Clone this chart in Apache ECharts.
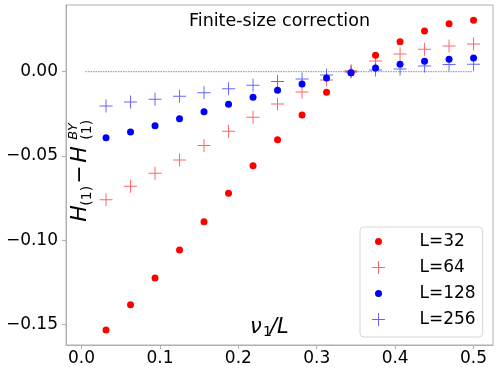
<!DOCTYPE html>
<html>
<head>
<meta charset="utf-8">
<script src="https://cdn.jsdelivr.net/npm/echarts@6/dist/echarts.min.js"></script>
<style>
html,body{margin:0;padding:0;background:#fff;}
#c{width:498px;height:374px;}
</style>
</head>
<body>
<div id="c"></div>
<script>
// ---- data ----
var xValues = [0.03125,0.0625,0.09375,0.125,0.15625,0.1875,0.21875,0.25,0.28125,0.3125,0.34375,0.375,0.40625,0.4375,0.46875,0.5];
var seriesNames = ['L=32','L=64','L=128','L=256'];
var yL32  = [-0.1534,-0.1384,-0.1225,-0.1059,-0.0891,-0.0722,-0.0558,-0.0404,-0.0257,-0.0122,-0.0006,0.0097,0.0178,0.0242,0.0285,0.0305];
var yL64  = [-0.0760,-0.0680,-0.0603,-0.0524,-0.0439,-0.0354,-0.0271,-0.0192,-0.0121,-0.0049,0.0006,0.0064,0.0105,0.0133,0.0153,0.0164];
var yL128 = [-0.0392,-0.0358,-0.0321,-0.0279,-0.0238,-0.0194,-0.0152,-0.0110,-0.0073,-0.0037,-0.0006,0.0022,0.0044,0.0062,0.0074,0.0081];
var yL256 = [-0.0204,-0.0180,-0.0164,-0.0146,-0.0125,-0.0101,-0.0081,-0.0059,-0.0043,-0.0020,-0.0002,0.0010,0.0016,0.0034,0.0042,0.0044];
var zeroLineX = [0.005, 0.5];
var xTickValues = [0,0.1,0.2,0.3,0.4,0.5];
var xTickLabels = ['0.0','0.1','0.2','0.3','0.4','0.5'];
var yTickValues = [-0.15,-0.10,-0.05,0.00];
var yTickLabels = ['\u22120.15','\u22120.10','\u22120.05','0.00'];
var titleText = 'Finite-size correction';

// ---- styling ----
var FONT = 'DejaVu Sans';
var PLUS = 'path://M6,0H7V6H13V7H7V13H6V7H0V6H6Z';
var DOT_ICON = 'path://M0,0L0,0M13,13L13,13M3,6.5a3.5,3.5 0 1,0 7,0a3.5,3.5 0 1,0 -7,0Z';
function pairs(ys){ return ys.map(function(y,i){ return [xValues[i], y]; }); }
function lookup(vals, labels, v){
  for (var i=0;i<vals.length;i++){ if (Math.abs(vals[i]-v) < 1e-9) return labels[i]; }
  return '';
}
var axisGray = '#b0b0b0';

var chart = echarts.init(document.getElementById('c'), null, {renderer:'canvas'});
var option = {
  animation: false,
  backgroundColor: '#fff',
  textStyle: {fontFamily: FONT},
  title: {
    text: titleText, left: 279.5, top: 12, textAlign: 'center', padding: 0,
    textStyle: {fontFamily: FONT, fontSize: 17.5, fontWeight: 'normal', color: '#000'}
  },
  grid: {left: 66, right: 5, top: 5, bottom: 29, show: true, borderColor: axisGray, borderWidth: 1, containLabel: false},
  xAxis: {
    type: 'value', min: -0.0198, max: 0.5248,
    axisLine: {show: true, onZero: false, lineStyle: {color: axisGray, width: 1}},
    axisTick: {show: true, length: 4, customValues: xTickValues, lineStyle: {color: axisGray}},
    axisLabel: {customValues: xTickValues, margin: 5, fontSize: 17, fontFamily: FONT, color: '#000',
      formatter: function(v){ return lookup(xTickValues, xTickLabels, v); }},
    splitLine: {show: false}
  },
  yAxis: {
    type: 'value', min: -0.1623, max: 0.0396,
    axisLine: {show: true, onZero: false, lineStyle: {color: axisGray, width: 1}},
    axisTick: {show: true, length: 4, customValues: yTickValues, lineStyle: {color: axisGray}},
    axisLabel: {customValues: yTickValues, margin: 8, fontSize: 17, fontFamily: FONT, color: '#000',
      formatter: function(v){ return lookup(yTickValues, yTickLabels, v); }},
    splitLine: {show: false}
  },
  legend: {
    orient: 'vertical', left: 360, top: 227,
    padding: [6, 7, 9, 12], itemGap: 9, itemWidth: 26, itemHeight: 13,
    backgroundColor: 'rgba(255,255,255,0.8)', borderColor: '#d6d6d6', borderWidth: 1, borderRadius: 4,
    textStyle: {fontFamily: FONT, fontSize: 17, color: '#000', padding: [0,0,0,23]},
    data: [
      {name: seriesNames[0], icon: DOT_ICON},
      {name: seriesNames[1], icon: PLUS},
      {name: seriesNames[2], icon: DOT_ICON},
      {name: seriesNames[3], icon: PLUS}
    ]
  },
  graphic: [
    {type: 'group', x: 88, y: 221.7, rotation: Math.PI/2, silent: true, children: [
      {type: 'text', x: 0, y: -8, style: {text: 'H', font: 'italic 22px "DejaVu Sans"', fill: '#000', verticalAlign: 'middle', align: 'left'}},
      {type: 'text', x: 16, y: -0.5, style: {text: '(1)', font: '14px "DejaVu Sans"', fill: '#000', verticalAlign: 'middle', align: 'left'}},
      {type: 'text', x: 38, y: -8, style: {text: '\u2212', font: '22px "DejaVu Sans"', fill: '#000', verticalAlign: 'middle', align: 'left'}},
      {type: 'text', x: 59, y: -8, style: {text: 'H', font: 'italic 22px "DejaVu Sans"', fill: '#000', verticalAlign: 'middle', align: 'left'}},
      {type: 'text', x: 82, y: -14.5, style: {text: 'BY', font: 'italic 13px "DejaVu Sans"', fill: '#000', verticalAlign: 'middle', align: 'left'}},
      {type: 'text', x: 82, y: -0.5, style: {text: '(1)', font: '14px "DejaVu Sans"', fill: '#000', verticalAlign: 'middle', align: 'left'}}
    ]},
    {type: 'group', x: 0, y: 0, silent: true, children: [
      {type: 'text', x: 250, y: 327.5, style: {text: '\u03bd', font: 'italic 21px "DejaVu Sans"', fill: '#000', verticalAlign: 'middle', align: 'left'}},
      {type: 'text', x: 263, y: 332, style: {text: '1', font: '14px "DejaVu Sans"', fill: '#000', verticalAlign: 'middle', align: 'left'}},
      {type: 'text', x: 270, y: 327.5, style: {text: '/L', font: 'italic 21px "DejaVu Sans"', fill: '#000', verticalAlign: 'middle', align: 'left'}}
    ]}
  ],
  series: [
    {type: 'line', name: 'zero', data: [[zeroLineX[0],0],[zeroLineX[1],0]], symbol: 'none', silent: true,
     lineStyle: {color: '#909090', width: 1, type: [1.5,1]}, z: 1},
    {type: 'scatter', name: seriesNames[0], data: pairs(yL32), symbol: 'circle', symbolSize: 7,
     itemStyle: {color: '#ff0000', opacity: 1}, z: 2},
    {type: 'scatter', name: seriesNames[1], data: pairs(yL64), symbol: PLUS, symbolSize: 13,
     itemStyle: {color: 'rgba(255,0,0,0.6)', opacity: 1}, z: 3},
    {type: 'scatter', name: seriesNames[2], data: pairs(yL128), symbol: 'circle', symbolSize: 7,
     itemStyle: {color: '#0000ff', opacity: 1}, z: 4},
    {type: 'scatter', name: seriesNames[3], data: pairs(yL256), symbol: PLUS, symbolSize: 13,
     itemStyle: {color: 'rgba(0,0,255,0.6)', opacity: 1}, z: 5}
  ]
};
chart.setOption(option);
</script>
</body>
</html>
